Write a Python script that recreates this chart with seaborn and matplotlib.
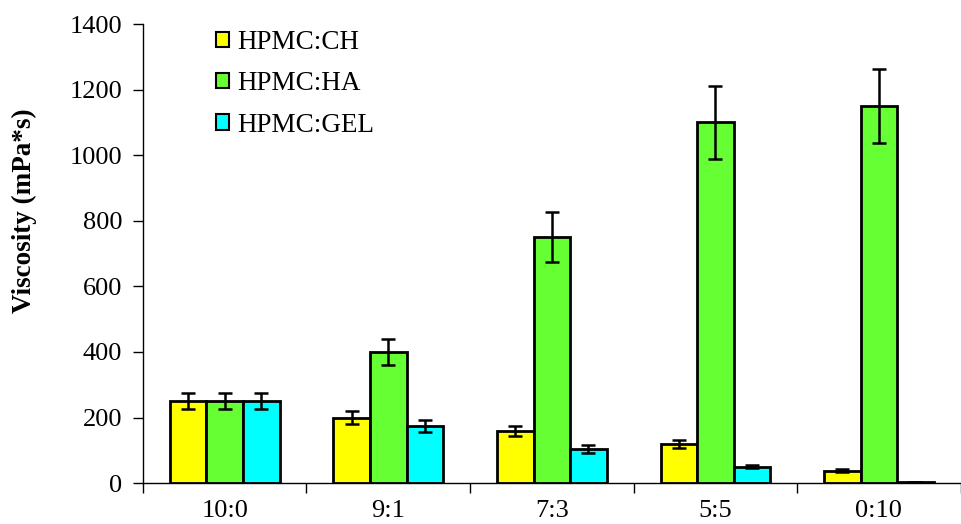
import matplotlib
matplotlib.use("Agg")
import matplotlib.pyplot as plt
import seaborn as sns
import pandas as pd
import numpy as np

ratios = ["10:0", "9:1", "7:3", "5:5", "0:10"]
series = ["HPMC:CH", "HPMC:HA", "HPMC:GEL"]
ch_vals = [250, 200, 160, 120, 38]
ha_vals = [250, 400, 750, 1100, 1150]
gel_vals = [250, 175, 105, 50, 2]
ch_err = [25, 20, 15, 12, 5]
ha_err = [25, 40, 77, 110, 113]
gel_err = [25, 18, 12, 5, 1]
colors = ["#FFFF00", "#66FF33", "#00FFFF"]

sns.set_theme(style="white")
plt.rcParams['font.family'] = ['Liberation Serif', 'DejaVu Serif']
plt.rcParams['text.color'] = 'black'
plt.rcParams['axes.labelcolor'] = 'black'
plt.rcParams['xtick.color'] = 'black'
plt.rcParams['ytick.color'] = 'black'

rows = []
for s, vals in zip(series, [ch_vals, ha_vals, gel_vals]):
    for r, v in zip(ratios, vals):
        rows.append({"Ratio": r, "Series": s, "Viscosity": v})
df = pd.DataFrame(rows)

fig = plt.figure(figsize=(9.62, 5.24), dpi=100)
ax = fig.add_axes([0.1486, 0.078, 0.850, 0.876])

sns.barplot(data=df, x="Ratio", y="Viscosity", hue="Series", order=ratios,
            hue_order=series, palette=colors, errorbar=None, width=0.67,
            edgecolor="black", linewidth=2, ax=ax, saturation=1)

for cont, errs in zip(ax.containers, [ch_err, ha_err, gel_err]):
    xs = [p.get_x() + p.get_width() / 2 for p in cont]
    hs = [p.get_height() for p in cont]
    ax.errorbar(xs, hs, yerr=errs, fmt="none", ecolor="black",
                elinewidth=1.8, capsize=5, capthick=1.8, zorder=5)

ax.set_ylim(0, 1400)
ax.set_xlim(-0.5, 4.5)
ax.set_yticks(np.arange(0, 1401, 200))
ax.set_xticks(np.arange(len(ratios)))
ax.set_xticklabels(ratios)
ax.set_xticks(np.arange(-0.5, 4.6, 1), minor=True)
ax.tick_params(axis="x", which="major", length=0, pad=12, labelsize=19, labelcolor="black")
ax.tick_params(axis="x", which="minor", length=7, width=1, direction="out", color="black", bottom=True)
ax.tick_params(axis="y", length=7, width=1, direction="out", color="black", left=True, labelsize=19, pad=8, labelcolor="black")
for s in ["top", "right"]:
    ax.spines[s].set_visible(False)
for s in ["left", "bottom"]:
    ax.spines[s].set_color("black")
    ax.spines[s].set_linewidth(1)
ax.set_xlabel("")
ax.set_ylabel("Viscosity (mPa*s)", fontsize=19.5, fontweight="bold", color="black")
ax.yaxis.set_label_coords(-0.130, 0.593)

leg = ax.legend(loc="upper left", bbox_to_anchor=(0.059, 1.04), frameon=False,
                fontsize=19.5, handlelength=0.5, handleheight=0.5, handletextpad=0.3,
                labelspacing=0.6)
for h in leg.legend_handles:
    h.set_edgecolor("black")
    h.set_linewidth(1.5)
for t in leg.get_texts():
    t.set_color("black")

fig.savefig("out.png", dpi=100, facecolor="white")
